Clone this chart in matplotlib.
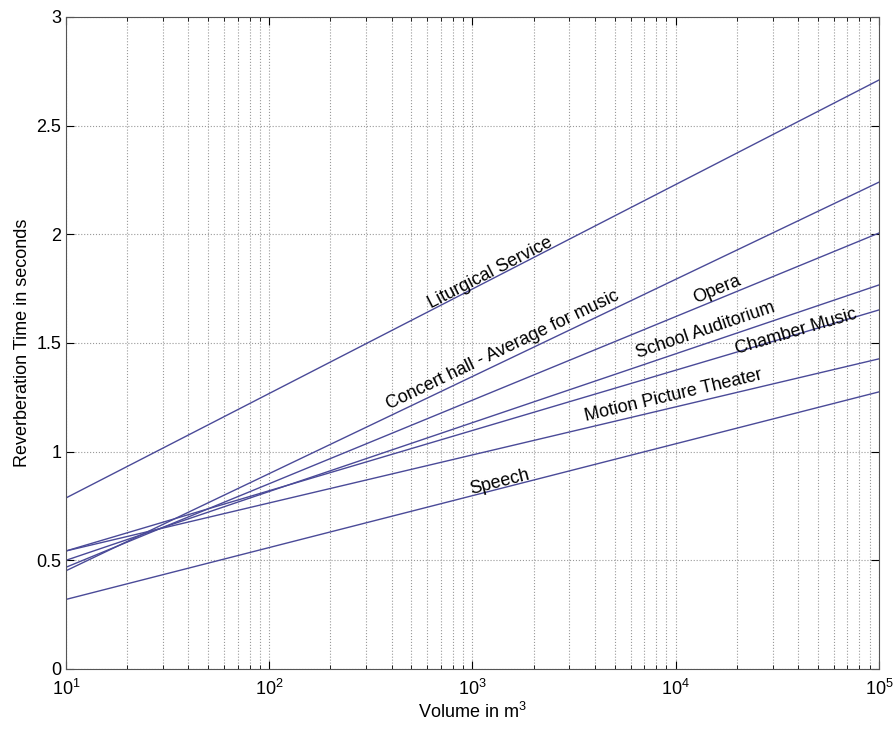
import numpy as np
import matplotlib
matplotlib.use("Agg")
import matplotlib.pyplot as plt

plt.rcParams['font.family'] = ['Liberation Sans', 'DejaVu Sans']
plt.rcParams['mathtext.fontset'] = 'custom'
plt.rcParams['mathtext.rm'] = 'Liberation Sans'

# volumes (m^3) at the two ends of every line
vol = [10, 1e5]

names = ["Liturgical Service", "Concert hall - Average for music", "Opera",
         "School Auditorium", "Chamber Music", "Motion Picture Theater", "Speech"]
t_start = [0.787, 0.452, 0.468, 0.50, 0.543, 0.543, 0.32]
t_end = [2.71, 2.24, 2.006, 1.767, 1.652, 1.427, 1.275]

# label anchor (volume, seconds)
lab_x = [1220, 1413, 15960, 13930, 38900, 9770, 1365]
lab_y = [1.82, 1.468, 1.744, 1.56, 1.55, 1.256, 0.86]

yticks = [0, 0.5, 1, 1.5, 2, 2.5, 3]
yticklabels = ["0", "0.5", "1", "1.5", "2", "2.5", "3"]

fig = plt.figure(figsize=(8.93, 7.32), dpi=100)
ax = fig.add_axes([0.0739, 0.0861, 0.9104, 0.8907])

line_col = '#4a4a98'
for a, b in zip(t_start, t_end):
    ax.plot(vol, [a, b], color=line_col, linewidth=1.0)

ax.set_xscale('log')
ax.set_xlim(10, 1e5)
ax.set_ylim(0, 3)
ax.set_yticks(yticks)
ax.set_yticklabels(yticklabels)

ax.grid(True, which='both', axis='x', linestyle=':', color='#999999', linewidth=0.8)
ax.grid(True, which='major', axis='y', linestyle=':', color='#999999', linewidth=0.8)
ax.tick_params(which='both', direction='in', top=True, right=True, labelsize=13)
ax.tick_params(which='major', length=6)
ax.tick_params(which='minor', length=3)
ax.tick_params(axis='x', which='major', pad=7)
for s in ax.spines.values():
    s.set_color('#555555')

ax.set_xlabel("Volume in m$^3$", fontsize=13, labelpad=2)
ax.set_ylabel("Reverberation Time in seconds", fontsize=13)

fig.canvas.draw()
for name, a, b, x, y in zip(names, t_start, t_end, lab_x, lab_y):
    p0 = ax.transData.transform((vol[0], a))
    p1 = ax.transData.transform((vol[1], b))
    ang = np.degrees(np.arctan2(p1[1] - p0[1], p1[0] - p0[0]))
    ax.text(x, y, name, rotation=ang, ha='center', va='center',
            fontsize=13, rotation_mode='anchor')

fig.savefig("out.png", dpi=100)
